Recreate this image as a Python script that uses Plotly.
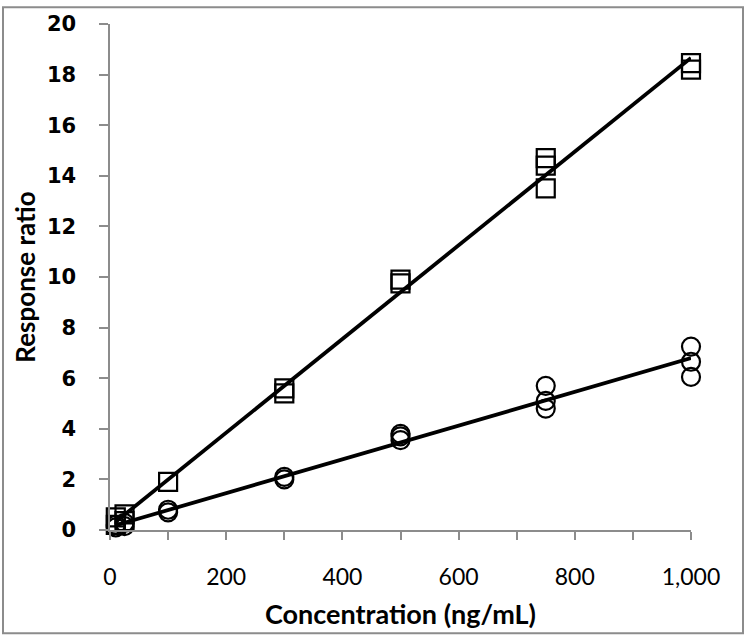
import numpy as np
import plotly.graph_objects as go

# Series 1 (squares)
sq_conc = [10, 10, 25, 25, 100, 300, 300, 500, 500, 750, 750, 750, 1000, 1000]
sq_resp = [0.2, 0.5, 0.35, 0.62, 1.9, 5.4, 5.6, 9.75, 9.9, 13.5, 14.4, 14.7, 18.2, 18.45]
# Series 2 (circles)
ci_conc = [10, 10, 25, 25, 100, 100, 300, 300, 500, 500, 500, 750, 750, 750, 1000, 1000, 1000]
ci_resp = [0.1, 0.2, 0.15, 0.28, 0.7, 0.8, 2.0, 2.1, 3.55, 3.7, 3.8, 4.8, 5.1, 5.7, 6.05, 6.65, 7.25]

x_ticks = [0, 200, 400, 600, 800, 1000]
x_tick_labels = ["0", "200", "400", "600", "800", "1,000"]
y_ticks = list(range(0, 21, 2))

def fit_line(x, y):
    m, b = np.polyfit(x, y, 1)
    xs = np.array([min(x), max(x)])
    return xs, m * xs + b

fig = go.Figure()
for cx, cy in [(sq_conc, sq_resp), (ci_conc, ci_resp)]:
    lx, ly = fit_line(cx, cy)
    fig.add_trace(go.Scatter(x=lx, y=ly, mode="lines", cliponaxis=False,
                             line=dict(color="black", width=3.8), showlegend=False))

fig.add_trace(go.Scatter(x=sq_conc, y=sq_resp, mode="markers", cliponaxis=False,
                         marker=dict(symbol="square-open", size=18, color="black",
                                     line=dict(width=2.2, color="black")),
                         showlegend=False))
fig.add_trace(go.Scatter(x=ci_conc, y=ci_resp, mode="markers", cliponaxis=False,
                         marker=dict(symbol="circle-open", size=18, color="black",
                                     line=dict(width=2.2, color="black")),
                         showlegend=False))

xt_all = list(range(0, 1001, 100))
fig.update_layout(
    width=750, height=639,
    margin=dict(l=110, r=59, t=20, b=109),
    paper_bgcolor="white", plot_bgcolor="white",
    xaxis=dict(range=[0, 1000], tickvals=xt_all,
               ticktext=[x_tick_labels[x_ticks.index(v)] if v in x_ticks else "" for v in xt_all],
               showgrid=False, zeroline=False, showline=True, linecolor="#8c8c8c", linewidth=1.5,
               ticks="outside", ticklen=8, tickcolor="#8c8c8c", tickwidth=1.5,
               ticklabelstandoff=18,
               tickfont=dict(family="Lato, sans-serif", size=23, color="black"),
               title=dict(text="<b>Concentration (ng/mL)</b>",
                          font=dict(family="Lato, sans-serif", size=27, color="black"),
                          standoff=16)),
    yaxis=dict(range=[0, 20], tickvals=y_ticks,
               ticktext=[f"<b>{v}</b>\u2002\u2009\u2009" for v in y_ticks],
               showgrid=False, zeroline=False, showline=True, linecolor="#8c8c8c", linewidth=1.5,
               ticks="outside", ticklen=9, tickcolor="#8c8c8c", tickwidth=1.5,
               tickfont=dict(family="DejaVu Sans, Verdana, sans-serif", size=21, color="black"),
               title=dict(text="<b>Response ratio</b>",
                          font=dict(family="Lato, sans-serif", size=26, color="black"),
                          standoff=4)),
    shapes=[dict(type="rect", xref="paper", yref="paper",
                 x0=(3 - 110) / 581, x1=(743 - 110) / 581,
                 y0=(530 - 634) / 510, y1=(530 - 3) / 510,
                 line=dict(color="#8c8c8c", width=2), fillcolor="rgba(0,0,0,0)")],
)

fig.write_html("out.html", config={"displayModeBar": False},
               post_script="document.body.style.margin='0';document.body.style.overflow='hidden';")
